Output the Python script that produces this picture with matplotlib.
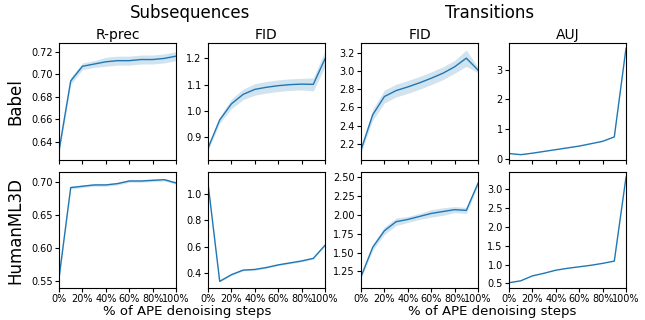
import numpy as np
import matplotlib.pyplot as plt
from matplotlib.ticker import FuncFormatter

steps = [0, 10, 20, 30, 40, 50, 60, 70, 80, 90, 100]   # % of APE denoising steps

# Babel
babel_rprec = [0.632, 0.694, 0.707, 0.709, 0.711, 0.712, 0.712, 0.713, 0.713, 0.714, 0.716]
babel_rprec_sd = [0.003, 0.003, 0.003, 0.003, 0.004, 0.004, 0.004, 0.004, 0.004, 0.004, 0.004]
babel_sub_fid = [0.859, 0.966, 1.027, 1.063, 1.082, 1.090, 1.096, 1.100, 1.102, 1.101, 1.198]
babel_sub_fid_sd = [0.008, 0.012, 0.018, 0.02, 0.022, 0.022, 0.022, 0.022, 0.022, 0.025, 0.03]
babel_tr_fid = [2.134, 2.52, 2.72, 2.785, 2.825, 2.87, 2.92, 2.975, 3.045, 3.14, 3.01]
babel_tr_fid_sd = [0.03, 0.06, 0.07, 0.07, 0.07, 0.07, 0.07, 0.07, 0.07, 0.09, 0.03]
babel_auj = [0.17, 0.13, 0.18, 0.24, 0.30, 0.36, 0.42, 0.50, 0.58, 0.73, 3.72]

# HumanML3D
hml_rprec = [0.554, 0.692, 0.694, 0.696, 0.696, 0.698, 0.702, 0.702, 0.703, 0.704, 0.699]
hml_rprec_sd = [0.002, 0.002, 0.002, 0.002, 0.002, 0.002, 0.002, 0.002, 0.002, 0.002, 0.002]
hml_sub_fid = [1.084, 0.334, 0.385, 0.42, 0.425, 0.44, 0.46, 0.475, 0.49, 0.51, 0.61]
hml_sub_fid_sd = [0.005, 0.005, 0.006, 0.006, 0.006, 0.006, 0.006, 0.006, 0.006, 0.006, 0.006]
hml_tr_fid = [1.18, 1.57, 1.79, 1.91, 1.94, 1.98, 2.02, 2.045, 2.07, 2.06, 2.42]
hml_tr_fid_sd = [0.02, 0.04, 0.05, 0.05, 0.04, 0.04, 0.05, 0.05, 0.04, 0.04, 0.03]
hml_auj = [0.52, 0.57, 0.70, 0.77, 0.85, 0.90, 0.94, 0.98, 1.03, 1.09, 3.30]

col_titles = ["R-prec", "FID", "FID", "AUJ"]
row_labels = ["Babel", "HumanML3D"]

# (values, band, ylim, yticks, tick format)
rows = [
    [(babel_rprec, babel_rprec_sd, (0.6237, 0.7277), [0.64, 0.66, 0.68, 0.70, 0.72], "{:.2f}"),
     (babel_sub_fid, babel_sub_fid_sd, (0.814, 1.258), [0.9, 1.0, 1.1, 1.2], "{:.1f}"),
     (babel_tr_fid, babel_tr_fid_sd, (2.025, 3.306), [2.2, 2.4, 2.6, 2.8, 3.0, 3.2], "{:.1f}"),
     (babel_auj, None, None, [0, 1, 2, 3], "{:.0f}")],
    [(hml_rprec, hml_rprec_sd, (0.539, 0.7157), [0.55, 0.60, 0.65, 0.70], "{:.2f}"),
     (hml_sub_fid, hml_sub_fid_sd, (0.283, 1.171), [0.4, 0.6, 0.8, 1.0], "{:.1f}"),
     (hml_tr_fid, hml_tr_fid_sd, (1.03, 2.57), [1.25, 1.50, 1.75, 2.00, 2.25, 2.50], "{:.2f}"),
     (hml_auj, None, None, [0.5, 1.0, 1.5, 2.0, 2.5, 3.0], "{:.1f}")],
]

W, H = 645, 320
fig = plt.figure(figsize=(6.45, 3.2), dpi=100)
lefts = [59, 208, 361, 509]
tops = [(43, 160), (172, 288)]

x = np.array(steps)
for r, row in enumerate(rows):
    y0, y1 = tops[r]
    for c, (vals, sd, lim, yt, fmt) in enumerate(row):
        ax = fig.add_axes([lefts[c] / W, 1 - y1 / H, 117 / W, (y1 - y0) / H])
        vals = np.array(vals)
        ax.plot(x, vals, color="C0", lw=1)
        if sd is not None:
            sd = np.array(sd)
            ax.fill_between(x, vals - sd, vals + sd, color="C0", alpha=0.2, lw=0)
        ax.set_xlim(0, 100)
        ax.set_yticks(yt)
        ax.set_yticklabels([fmt.format(v) for v in yt])
        if lim is not None:
            ax.set_ylim(*lim)
        else:
            ax.autoscale(axis="y")
            lo, hi = vals.min(), vals.max()
            m = 0.05 * (hi - lo)
            ax.set_ylim(lo - m, hi + m)
        ax.set_xticks([0, 20, 40, 60, 80, 100])
        ax.tick_params(labelsize=7, length=3, pad=1.5)
        if r == 0:
            ax.set_xticklabels([])
            ax.set_title(col_titles[c], fontsize=10, pad=3)
        else:
            ax.xaxis.set_major_formatter(FuncFormatter(lambda v, p: f"{v:.0f}%"))

fig.text(190 / W, 1 - 13 / H, "Subsequences", fontsize=12, ha="center", va="center")
fig.text(490 / W, 1 - 13 / H, "Transitions", fontsize=12, ha="center", va="center")
fig.text(187 / W, 1 - 311 / H, "% of APE denoising steps", fontsize=9.5, ha="center", va="center")
fig.text(492 / W, 1 - 311 / H, "% of APE denoising steps", fontsize=9.5, ha="center", va="center")
fig.text(15 / W, 1 - 102 / H, row_labels[0], fontsize=12, rotation=90, ha="center", va="center")
fig.text(15 / W, 1 - 231 / H, row_labels[1], fontsize=12, rotation=90, ha="center", va="center")

plt.savefig("out.png")
